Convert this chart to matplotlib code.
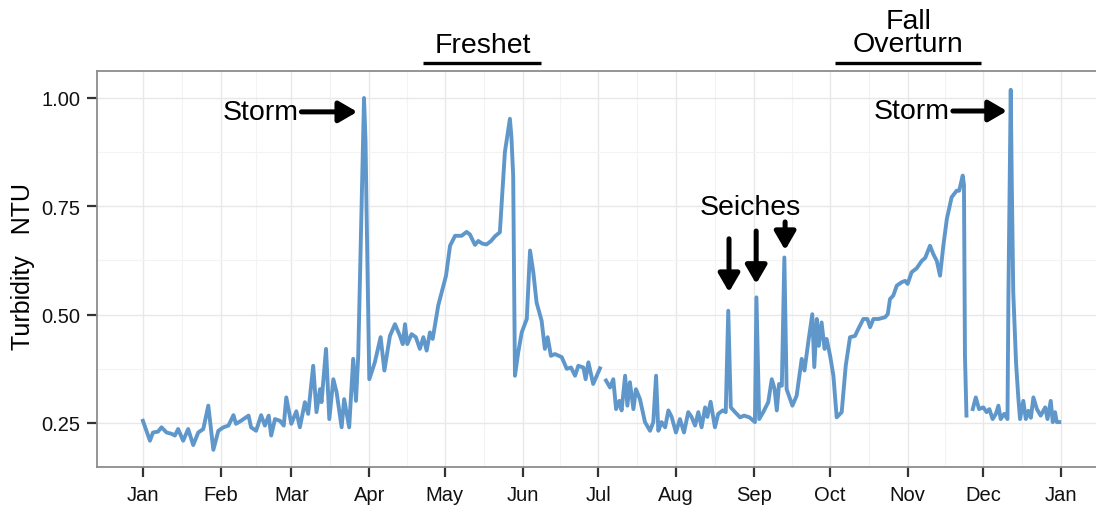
import numpy as np
import matplotlib
matplotlib.use("Agg")
import matplotlib.pyplot as plt
from matplotlib.ticker import FixedLocator

plt.rcParams['font.family'] = ['Liberation Sans', 'DejaVu Sans']

# daily turbidity readings (day of year, NTU); nan marks gaps in the record
day = [0, 2.8, 4, 6, 7.4, 9.4, 11.4, 12.7, 14, 16, 18, 20, 22, 24, 26, 28, 30, 32, 34, 36,
       37, 39, 42, 43, 45, 47, 48.5, 50, 51, 52.5, 54.5, 56, 57, 59, 61, 62.4, 64.4, 65.7, 67.7, 69,
       70.4, 71, 72.8, 74.1, 75.7, 77, 79, 80, 82, 83.6, 84.7, 85.6, 86.5, 87.9, 88.5, 88.9, 90, 92.2, 94.5, 96,
       98.2, 100.2, 102.2, 103.3, 104.2, 105.1, 106.8, 108.5, 110.1, 111.5, 112.8, 114.1, 115.2, 117.4, 120.5, 122.1, 124.1, 126.7, 128.7, 130,
       132, 133.3, 134.9, 136.6, 138.4, 140, 141.9, 143.9, 145.9, 146.5, 147.2, 147.9, 149.2, 150.6, 152.6, 153.9, 155.2, 156.5, 158.5, 159.8,
       160.9, 162.2, 163.8, 166.5, 168.5, 170.2, 171.8, 173.1, 175.1, 176, 177.1, 179, 181.7, 183, 184.1, 185.7, 187, 188.1, 189.4, 190.3,
       191.7, 192.6, 193.6, 195, 196, 197.6, 199.6, 201.6, 202.9, 204, 204.9, 206.2, 207.6, 208.9, 210.2, 211.9, 213.5, 215.1, 216.8, 218.1,
       219.5, 220.8, 222.1, 223.5, 224.4, 225.7, 227.4, 228.7, 230.5, 231.7, 232.7, 233.7, 235.4, 237.4, 239, 241.1, 243.3, 243.9, 245, 246.6,
       248.6, 250, 251.1, 252, 252.9, 254, 255, 255.9, 258.2, 259.9, 261.9, 263, 264.5, 266.1, 266.9, 267.9, 268.7, 269.8, 271, 271.8,
       273.2, 274.5, 275.8, 277.8, 279.4, 281.1, 283.1, 284.4, 286.4, 288, 289.1, 290.4, 292.4, 295, 296.1, 297, 298.3, 299.7, 301.7, 303,
       304, 305.6, 307.6, 309.6, 311, 312.9, 314.2, 315.6, 316.9, 318.2, 319.6, 321.5, 323.5, 324.5, 325.9, 326.4, 326.8, 327.4, 328.5, 329.9,
       331.1, 332.4, 334.1, 335.4, 336.5, 337.8, 339.1, 340.1, 341, 342.4, 343.7, 344.1, 345, 345.4, 346, 347.1, 348, 348.7, 350, 351,
       352, 353, 354, 355.4, 356.9, 358.7, 359.6, 360.9, 361.7, 362.6, 363.3, 364.3]
ntu = [0.255, 0.209, 0.228, 0.230, 0.240, 0.228, 0.225, 0.221, 0.236, 0.209, 0.236, 0.199, 0.228, 0.236, 0.290, 0.188, 0.232, 0.240, 0.244, 0.268,
       0.248, 0.255, 0.267, 0.240, 0.232, 0.268, 0.244, 0.267, 0.221, 0.259, 0.255, 0.244, 0.309, 0.248, 0.277, 0.240, 0.298, 0.271, 0.382, 0.275,
       0.328, 0.298, 0.421, 0.259, 0.351, 0.321, 0.240, 0.305, 0.240, 0.398, 0.301, 0.405, 0.636, 1.000, 0.900, 0.744, 0.351, 0.390, 0.448, 0.371,
       0.451, 0.478, 0.451, 0.432, 0.478, 0.432, 0.455, 0.448, 0.421, 0.448, 0.417, 0.459, 0.444, 0.521, 0.590, 0.659, 0.682, 0.682, 0.691, 0.685,
       0.661, 0.670, 0.664, 0.662, 0.670, 0.681, 0.690, 0.875, 0.952, 0.910, 0.821, 0.359, 0.413, 0.459, 0.490, 0.648, 0.598, 0.528, 0.486, 0.421,
       0.448, 0.405, 0.409, 0.402, 0.375, 0.378, 0.359, 0.382, 0.378, 0.351, 0.390, 0.340, 0.376, np.nan, 0.348, 0.332, 0.351, 0.282, 0.301, 0.279,
       0.359, 0.290, 0.344, 0.282, 0.328, 0.305, 0.252, 0.232, 0.252, 0.359, 0.232, 0.252, 0.240, 0.279, 0.264, 0.228, 0.259, 0.228, 0.275, 0.264,
       0.244, 0.275, 0.240, 0.286, 0.264, 0.299, 0.240, 0.271, 0.279, 0.275, 0.509, 0.286, 0.275, 0.263, 0.267, 0.263, 0.252, 0.540, 0.259, 0.275,
       0.298, 0.351, 0.329, 0.279, 0.340, 0.336, 0.632, 0.328, 0.290, 0.313, 0.398, 0.371, 0.436, 0.501, 0.379, 0.490, 0.428, 0.482, 0.421, 0.444,
       0.405, 0.359, 0.263, 0.275, 0.382, 0.448, 0.451, 0.467, 0.490, 0.490, 0.471, 0.490, 0.490, 0.494, 0.501, 0.536, 0.544, 0.567, 0.575, 0.578,
       0.571, 0.598, 0.607, 0.624, 0.631, 0.659, 0.640, 0.624, 0.590, 0.659, 0.721, 0.771, 0.786, 0.786, 0.821, 0.800, 0.405, 0.267, np.nan, 0.282,
       0.309, 0.282, 0.286, 0.275, 0.282, 0.259, 0.271, 0.290, 0.259, 0.271, 0.259, 0.559, 1.019, 0.808, 0.552, 0.390, 0.309, 0.259, 0.301, 0.259,
       0.278, 0.262, 0.309, 0.282, 0.267, 0.286, 0.259, 0.301, 0.252, 0.275, 0.252, 0.252]

month_days = [0, 31, 59, 90, 120, 151, 181, 212, 243, 273, 304, 334, 365]
month_labels = ['Jan', 'Feb', 'Mar', 'Apr', 'May', 'Jun', 'Jul', 'Aug', 'Sep', 'Oct', 'Nov', 'Dec', 'Jan']
y_ticks = [0.25, 0.50, 0.75, 1.00]

fig = plt.figure(figsize=(10.96, 5.06), dpi=100)
ax = fig.add_axes([0.0885, 0.0751, 0.9215, 0.7826])

ax.plot(day, ntu, color='#5f97cb', lw=2.8, solid_joinstyle='round')

ax.set_xlim(-18.25, 383.25)
ax.set_ylim(0.1484, 1.0623)

# grid like ggplot theme_bw
minor_x = [(a + b) / 2 for a, b in zip(month_days[:-1], month_days[1:])]
ax.xaxis.set_major_locator(FixedLocator(month_days))
ax.xaxis.set_minor_locator(FixedLocator(minor_x))
ax.yaxis.set_major_locator(FixedLocator(y_ticks))
ax.yaxis.set_minor_locator(FixedLocator([0.375, 0.625, 0.875]))
ax.set_xticklabels(month_labels)
ax.set_yticklabels(['%.2f' % v for v in y_ticks])
ax.grid(which='major', color='#e8e8e8', lw=1.0)
ax.grid(which='minor', color='#f3f3f3', lw=0.8)
ax.set_axisbelow(True)
ax.tick_params(which='major', length=7, width=1.6, color='#333333', labelsize=14.5,
               labelcolor='#111111', pad=5)
ax.tick_params(axis='x', pad=6)
ax.tick_params(which='minor', length=0)

for side in ['left', 'top', 'bottom']:
    ax.spines[side].set_color('#8c8c8c')
    ax.spines[side].set_linewidth(1.3)
ax.spines['right'].set_visible(False)

fig.text(0.021, 0.473, 'Turbidity   NTU', rotation=90, ha='center', va='center', fontsize=18)

# annotations
arrow = dict(arrowstyle='-|>,head_length=0.55,head_width=0.32', lw=3.6, color='black',
             mutation_scale=20, shrinkA=0, shrinkB=0)
ax.annotate('', xy=(85.2, 0.968), xytext=(63.0, 0.968), arrowprops=arrow)
ax.text(61.8, 0.968, 'Storm', ha='right', va='center', fontsize=20.5)
ax.annotate('', xy=(343.5, 0.970), xytext=(322.0, 0.970), arrowprops=arrow)
ax.text(320.9, 0.970, 'Storm', ha='right', va='center', fontsize=20.5)

ax.text(241.4, 0.748, 'Seiches', ha='center', va='center', fontsize=20.5)
ax.annotate('', xy=(233.0, 0.552), xytext=(233.0, 0.675), arrowprops=arrow)
ax.annotate('', xy=(243.8, 0.571), xytext=(243.8, 0.693), arrowprops=arrow)
ax.annotate('', xy=(255.3, 0.649), xytext=(255.3, 0.714), arrowprops=arrow)

# season labels above the panel
ax.text(135.2, 1.123, 'Freshet', ha='center', va='center', fontsize=20.5, clip_on=False)
ax.plot([111.3, 158.3], [1.081, 1.081], color='black', lw=2.4, clip_on=False, solid_capstyle='butt')
ax.text(304.2, 1.178, 'Fall', ha='center', va='center', fontsize=20.5, clip_on=False)
ax.text(304.2, 1.124, 'Overturn', ha='center', va='center', fontsize=20.5, clip_on=False)
ax.plot([275.1, 333.2], [1.081, 1.081], color='black', lw=2.4, clip_on=False, solid_capstyle='butt')

fig.savefig('out.png', dpi=100)
